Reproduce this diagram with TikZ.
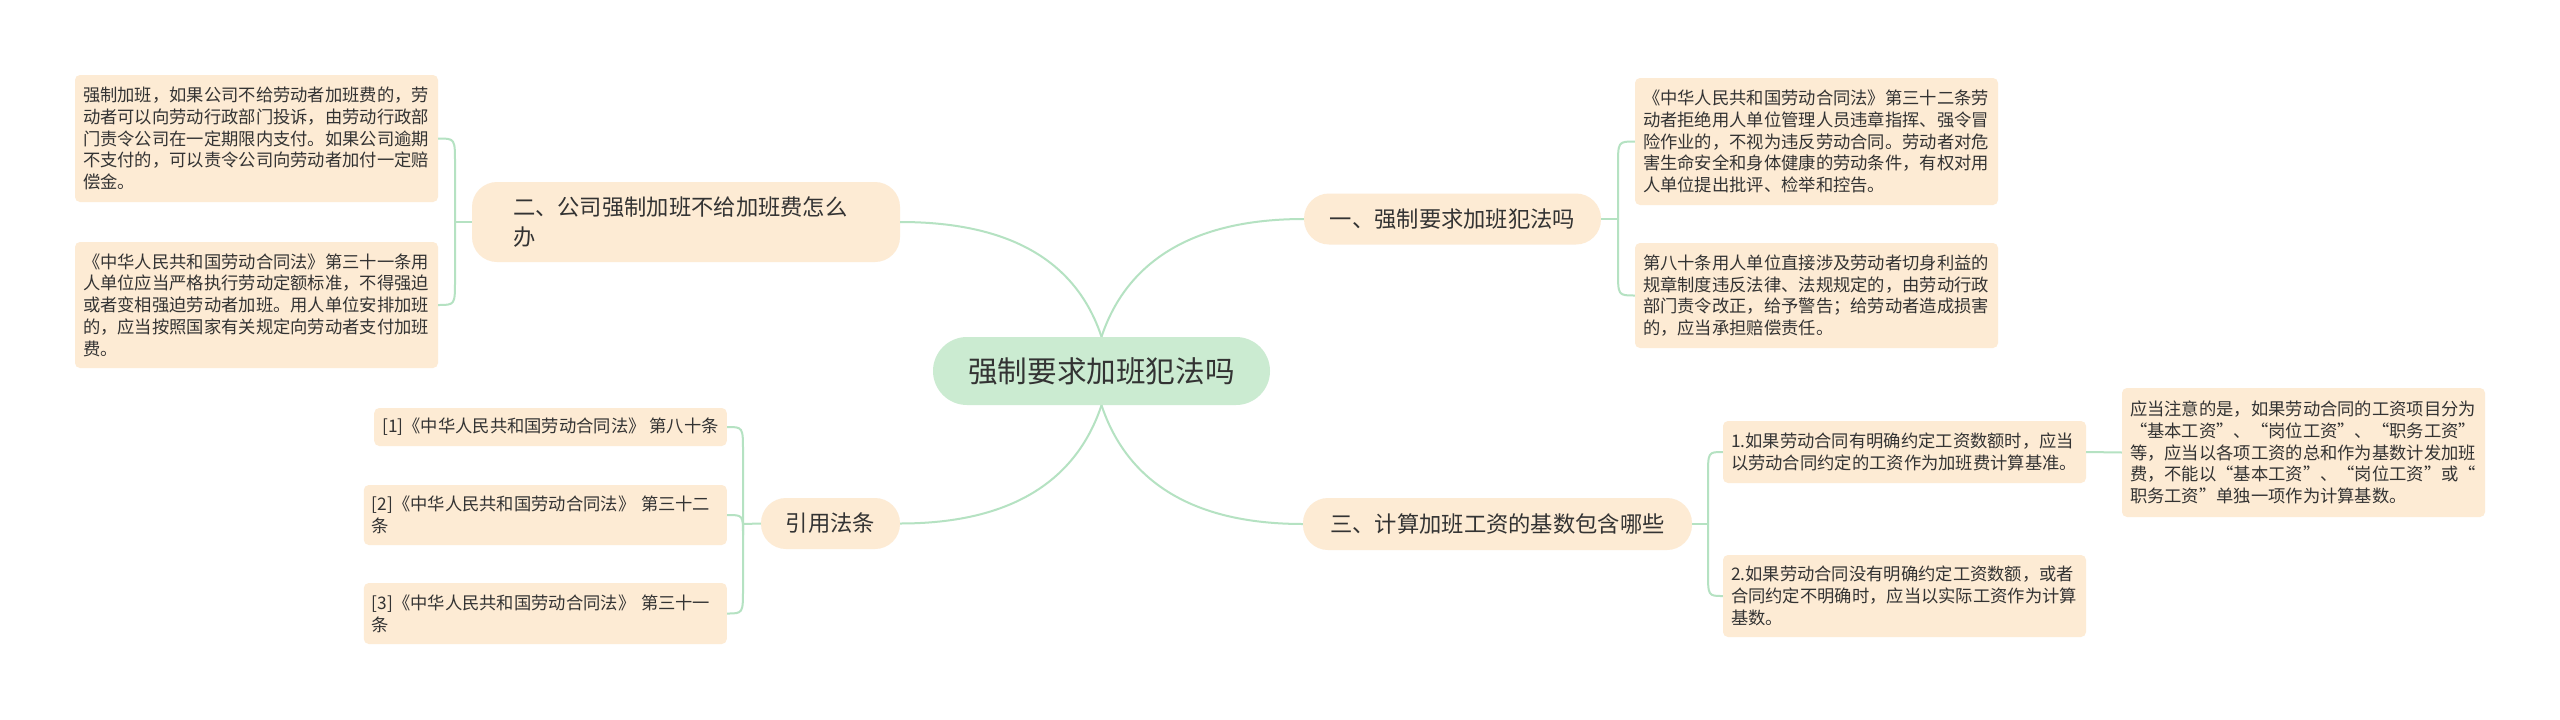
\documentclass[tikz,border=0pt]{standalone}
\usepackage{fontspec}
\setmainfont{Noto Sans CJK SC}
\usetikzlibrary{calc}
\definecolor{leafc}{HTML}{FDEBD4}
\definecolor{rootc}{HTML}{CBEBD1}
\definecolor{linkc}{HTML}{B5E2C2}
\definecolor{inkc}{HTML}{333333}
\tikzset{
  leafbox/.style={fill=leafc, rounded corners=5pt, text=inkc, inner xsep=8pt, inner ysep=0pt,
    font=\fontsize{17.3}{21.7}\selectfont},
  leafpar/.style={leafbox, text width=347pt, align=left},
  branchbox/.style={fill=leafc, rounded corners=25pt, text=inkc, inner xsep=0pt, inner ysep=0pt,
    font=\fontsize{22.3}{30}\selectfont},
  rootbox/.style={fill=rootc, rounded corners=34pt, text=inkc, inner xsep=0pt, inner ysep=0pt,
    font=\fontsize{29.6}{34}\selectfont},
  linkline/.style={draw=linkc, line width=2pt},
  fork/.style={to path={ -- ($(\tikztostart |- \tikztotarget)!#1!(\tikztostart)$)
      .. controls (\tikztostart |- \tikztotarget) .. (\tikztotarget)}},
}
\begin{document}
\begin{tikzpicture}[x=1pt, y=-1pt]
\useasboundingbox (0,0) rectangle (2560,720);
\fill[white] (0,0) rectangle (2560,720);

% root and branches
\node[rootbox, minimum width=337pt, minimum height=68pt] (root) at (1101.5,371) {强制要求加班犯法吗};
\node[branchbox, minimum width=297pt, minimum height=51pt] (b1) at (1452.5,219) {一、强制要求加班犯法吗};
\node[branchbox, inner xsep=41pt, text width=346pt, align=left, minimum height=80pt] (b2) at (686,222)
  {二、公司强制加班不给加班费怎么\\办};
\node[branchbox, minimum width=389pt, minimum height=52pt] (b3) at (1497.5,524) {三、计算加班工资的基数包含哪些};
\node[branchbox, minimum width=139pt, minimum height=51pt] (b4) at (830.5,523.5) {引用法条};

% leaves of branch 1
\node[leafpar, minimum height=127pt] (l1a) at (1816.5,141.5)
  {《中华人民共和国劳动合同法》第三十二条劳\\动者拒绝用人单位管理人员违章指挥、强令冒\\险作业的，不视为违反劳动合同。劳动者对危\\害生命安全和身体健康的劳动条件，有权对用\\人单位提出批评、检举和控告。};
\node[leafpar, minimum height=105pt] (l1b) at (1816.5,295.5)
  {第八十条用人单位直接涉及劳动者切身利益的\\规章制度违反法律、法规规定的，由劳动行政\\部门责令改正，给予警告；给劳动者造成损害\\的，应当承担赔偿责任。};

% leaves of branch 2
\node[leafpar, minimum height=127pt] (l2a) at (256.5,138.5)
  {强制加班，如果公司不给劳动者加班费的，劳\\动者可以向劳动行政部门投诉，由劳动行政部\\门责令公司在一定期限内支付。如果公司逾期\\不支付的，可以责令公司向劳动者加付一定赔\\偿金。};
\node[leafpar, minimum height=126pt] (l2b) at (256.5,305)
  {《中华人民共和国劳动合同法》第三十一条用\\人单位应当严格执行劳动定额标准，不得强迫\\或者变相强迫劳动者加班。用人单位安排加班\\的，应当按照国家有关规定向劳动者支付加班\\费。};

% leaves of branch 3
\node[leafpar, minimum height=62pt] (l3a) at (1904.5,452)
  {1.如果劳动合同有明确约定工资数额时，应当\\以劳动合同约定的工资作为加班费计算基准。};
\node[leafpar, minimum height=82pt] (l3b) at (1904.5,596)
  {2.如果劳动合同没有明确约定工资数额，或者\\合同约定不明确时，应当以实际工资作为计算\\基数。};
\node[leafpar, minimum height=129pt] (l3c) at (2303.5,452.5)
  {应当注意的是，如果劳动合同的工资项目分为\\“基本工资”、“岗位工资”、“职务工资”\\等，应当以各项工资的总和作为基数计发加班\\费，不能以“基本工资”、“岗位工资”或“\\职务工资”单独一项作为计算基数。};

% citations
\node[leafbox, anchor=east, minimum height=38pt] (c1) at (727,427)
  {[1]《中华人民共和国劳动合同法》 第八十条};
\node[leafpar, anchor=east, minimum height=60pt] (c2) at (727,515)
  {[2]《中华人民共和国劳动合同法》 第三十二\\条};
\node[leafpar, anchor=east, minimum height=61pt] (c3) at (727,613.5)
  {[3]《中华人民共和国劳动合同法》 第三十一\\条};

% root connectors
\draw[linkline] (root.north) .. controls +(20,-60) and +(-130,0) .. (b1.west);
\draw[linkline] (root.north) .. controls +(-20,-60) and +(130,0) .. (b2.east);
\draw[linkline] (root.south) .. controls +(20,60) and +(-130,0) .. (b3.west);
\draw[linkline] (root.south) .. controls +(-20,60) and +(130,0) .. (b4.east);

% branch 1 fork
\coordinate (t1) at (1618,219);
\draw[linkline] (b1.east) -- (t1);
\draw[linkline] (t1) to[fork=25pt] (l1a.west);
\draw[linkline] (t1) to[fork=25pt] (l1b.west);

% branch 2 fork
\coordinate (t2) at (455,222);
\draw[linkline] (b2.west) -- (t2);
\draw[linkline] (t2) to[fork=25pt] (l2a.east);
\draw[linkline] (t2) to[fork=25pt] (l2b.east);

% branch 3 fork
\coordinate (t3) at (1708,524);
\draw[linkline] (b3.east) -- (t3);
\draw[linkline] (t3) to[fork=25pt] (l3a.west);
\draw[linkline] (t3) to[fork=25pt] (l3b.west);
\draw[linkline] (l3a.east) -- (l3c.west);

% citation fork
\coordinate (t4) at (743,524);
\draw[linkline] (b4.west) -- (t4);
\draw[linkline] (t4) to[fork=25pt] (c1.east);
\draw[linkline] (t4) to[fork=20pt] (c2.east);
\draw[linkline] (t4) to[fork=25pt] (c3.east);
\end{tikzpicture}
\end{document}
